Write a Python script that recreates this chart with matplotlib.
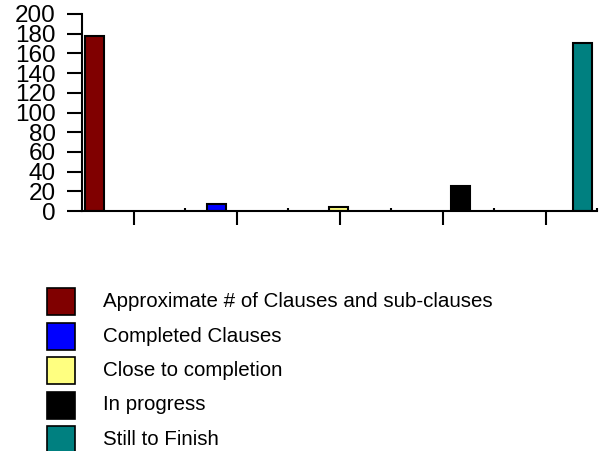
import matplotlib.pyplot as plt
from matplotlib.patches import Rectangle

plt.rcParams['font.family'] = ['Liberation Sans', 'DejaVu Sans']

labels = ["Approximate # of Clauses and sub-clauses", "Completed Clauses",
          "Close to completion", "In progress", "Still to Finish"]
values = [178, 7, 4, 25, 171]
colors = ["#800000", "#0000FF", "#FFFF80", "#000000", "#008080"]
positions = [0.24, 2.61, 4.98, 7.35, 9.72]
yticks = list(range(0, 201, 20))

fig = plt.figure(figsize=(6.05, 4.51), dpi=100)
ax = fig.add_axes([82 / 605, 240 / 451, 515 / 605, 197 / 451])

ax.bar(positions, values, width=0.37, color=colors, edgecolor="black", linewidth=1.5)

ax.set_xlim(0, 10)
ax.set_ylim(0, 200)
ax.set_yticks(yticks)
ax.tick_params(axis="y", length=11, width=1.5, labelsize=17.5, pad=8)
ax.set_xticks([1, 3, 5, 7, 9])
ax.set_xticks([2, 4, 6, 8, 10], minor=True)
ax.tick_params(axis="x", which="major", length=10, width=1.5, labelbottom=False)
ax.tick_params(axis="x", which="minor", length=2, width=1.5, direction="in")
for s in ["top", "right"]:
    ax.spines[s].set_visible(False)
for s in ["left", "bottom"]:
    ax.spines[s].set_linewidth(1.5)

# legend drawn by hand in pixel coordinates
for i, (lab, col) in enumerate(zip(labels, colors)):
    y = 451 - 301.5 - i * 34.5
    fig.add_artist(Rectangle((47 / 605, (y - 13.5) / 451), 28 / 605, 27 / 451,
                             transform=fig.transFigure, facecolor=col,
                             edgecolor="black", linewidth=1.2))
    fig.text(103 / 605, y / 451, lab, fontsize=14.8, va="center", ha="left")

fig.savefig("out.png", dpi=100)
